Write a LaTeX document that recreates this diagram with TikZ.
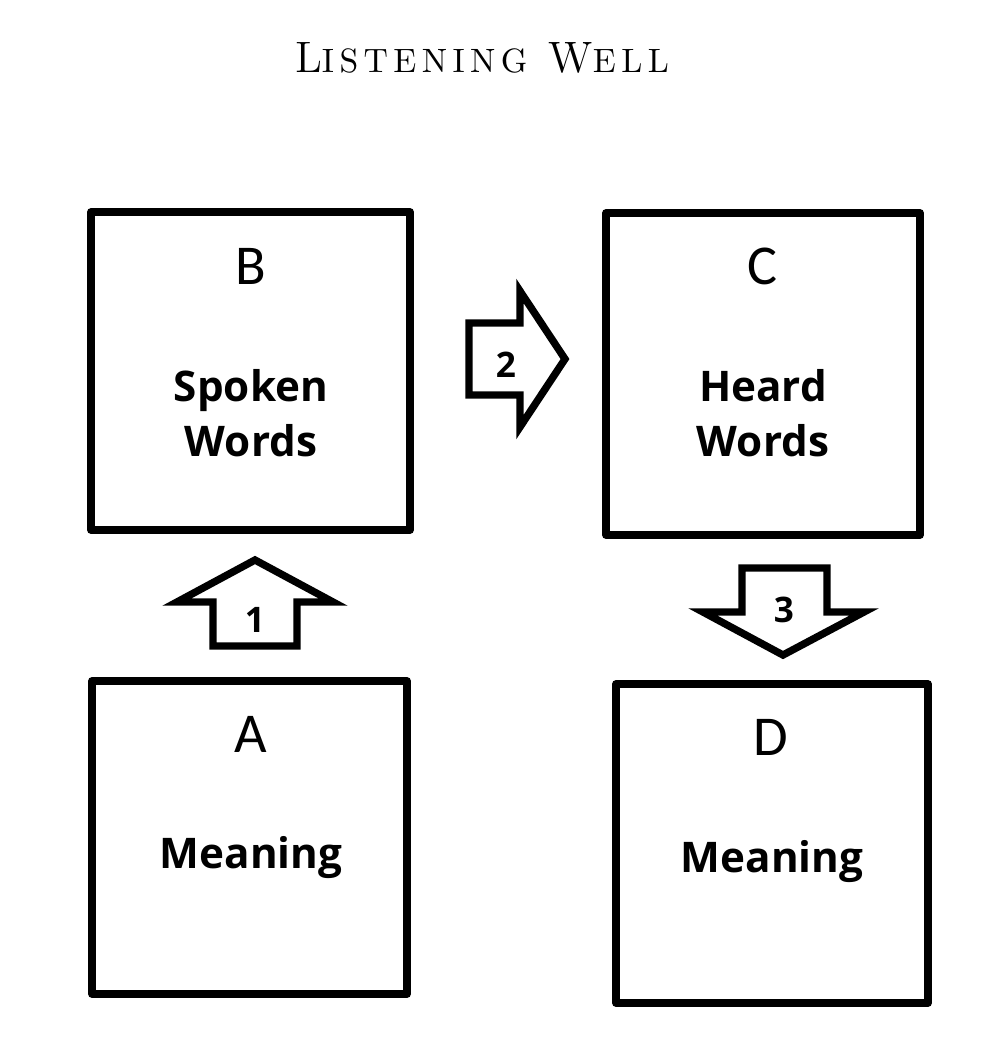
\documentclass[tikz,border=0pt]{standalone}
\usepackage{fontspec}
\setmainfont{Latin Modern Roman}
\newfontfamily\ttlfont{Latin Modern Roman}[LetterSpace=16]
\newfontfamily\letterfont{Carlito}
\newfontfamily\labfont{Open Sans}
\begin{document}
\begin{tikzpicture}[x=0.01cm,y=-0.01cm,
  box/.style={draw=black,line width=2.1pt,line join=round,fill=white,minimum width=3.18cm,minimum height=3.18cm,inner sep=0pt},
  letter/.style={font=\letterfont\fontsize{16}{18}\selectfont,inner sep=0pt},
  lab/.style={font=\labfont\bfseries\fontsize{12}{15.6}\selectfont,align=center,inner sep=0pt},
  num/.style={font=\labfont\bfseries\fontsize{10}{12}\selectfont,inner sep=0pt},
  blockarrow/.style={draw=black,line width=2.1pt,line join=miter,fill=white}]
\useasboundingbox (0,0) rectangle (1006,1056);
\fill[white] (0,0) rectangle (1006,1056);
% title
\node[inner sep=0pt] (title) at (482,58) {\ttlfont\fontsize{12.5}{15}\selectfont L\fontsize{9.6}{12}\selectfont ISTENING\fontsize{12.5}{15}\selectfont\ W\fontsize{9.6}{12}\selectfont ELL};
% boxes
\node[box,minimum width=3.19cm,minimum height=3.18cm] (B) at (250.5,371) {};
\node[box,minimum width=3.14cm,minimum height=3.22cm] (C) at (763,374) {};
\node[box,minimum width=3.15cm,minimum height=3.13cm] (A) at (249.5,837.5) {};
\node[box,minimum width=3.12cm,minimum height=3.19cm] (D) at (772,843.5) {};
% letters
\node[letter] (Bl) at (251,266) {B};
\node[letter] (Cl) at (763,266) {C};
\node[letter] (Al) at (251,734) {A};
\node[letter] (Dl) at (771,737) {D};
% labels
\node[lab] (Bt) at (251,413) {Spoken\\Words};
\node[lab] (Ct) at (763,413) {Heard\\Words};
\node[lab] (At) at (251,858) {Meaning};
\node[lab] (Dt) at (772,862) {Meaning};
% arrow 1 (up)
\draw[blockarrow] (213,646) -- (213,602) -- (177,602) -- (255,560) -- (333,602) -- (297,602) -- (297,646) -- cycle;
\node[num] (n1) at (255,620) {1};
% arrow 2 (right)
\draw[blockarrow] (469,323) -- (520,323) -- (520,291) -- (565,359) -- (520,427) -- (520,395) -- (469,395) -- cycle;
\node[num] (n2) at (506,365) {2};
% arrow 3 (down)
\draw[blockarrow] (742,568) -- (827,568) -- (827,612) -- (864,612) -- (783,655) -- (703,612) -- (742,612) -- cycle;
\node[num] (n3) at (784,610) {3};
\end{tikzpicture}
\end{document}
